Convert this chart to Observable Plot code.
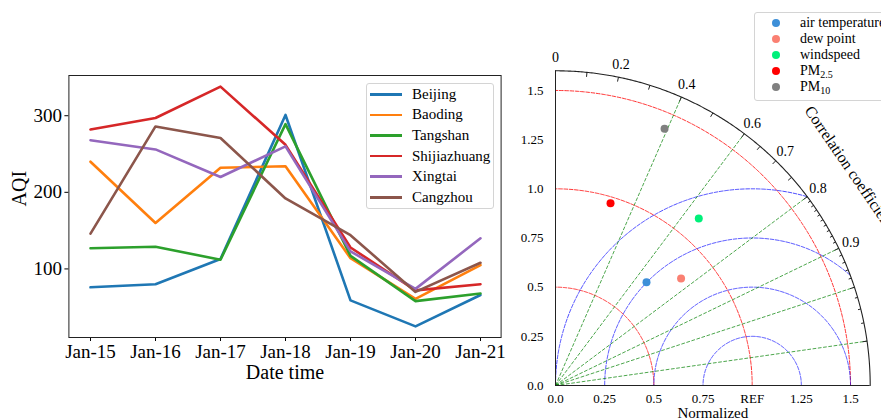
<!DOCTYPE html>
<html><head><meta charset="utf-8">
<script src="https://cdn.jsdelivr.net/npm/d3@7"></script>
<script src="https://cdn.jsdelivr.net/npm/@observablehq/plot@0.6"></script>
<style>
body{margin:0;background:#fff;}
#wrap{position:relative;width:881px;height:420px;overflow:hidden;font-family:"Liberation Serif",serif;background:#fff;}
#wrap svg, #wrap svg text{font-family:"Liberation Serif",serif !important;}
#left{position:absolute;left:0;top:0;}
#right{position:absolute;left:520px;top:0;}
.legend{position:absolute;background:#fff;border:1px solid #d4d4d4;border-radius:3px;box-sizing:border-box;color:#000;}
.row{display:flex;align-items:center;white-space:nowrap;}
.sw{display:inline-block;flex-shrink:0;}
</style></head><body>
<div id="wrap"><div id="left"></div><div id="right"></div>
<div id="legL" class="legend"></div><div id="legR" class="legend"></div></div>
<script>
// ---------- Left chart data ----------
const dates = ["Jan-15","Jan-16","Jan-17","Jan-18","Jan-19","Jan-20","Jan-21"];
const cities = ["Beijing","Baoding","Tangshan","Shijiazhuang","Xingtai","Cangzhou"];
const beijing      = [76, 80, 113, 301, 59, 25, 66];
const baoding      = [240, 160, 232, 234, 114, 61, 105];
const tangshan     = [127, 129, 112, 289, 117, 58, 68];
const shijiazhuang = [282, 297, 338, 262, 128, 72, 80];
const xingtai      = [268, 256, 220, 260, 123, 74, 140];
const cangzhou     = [146, 286, 271, 192, 144, 70, 108];
const cityColors = ["#1f77b4","#ff7f0e","#2ca02c","#d62728","#9467bd","#8c564b"];
const aqiTicks = [100, 200, 300];

// ---------- Taylor diagram data ----------
const vars = ["air temperature","dew point","windspeed","PM2.5","PM10"];
const varLabels = ["air temperature","dew point","windspeed","PM<sub>2.5</sub>","PM<sub>10</sub>"];
const stdNorm = [0.700, 0.839, 1.119, 0.968, 1.418];
const corr    = [0.661, 0.761, 0.651, 0.289, 0.391];
const varColors = ["#3d8fd8","#fa8072","#00f07a","#ff0000","#808080"];
const stdLevels = [0.5, 1.0, 1.5];
const rmsLevels = [0.25, 0.5, 0.75, 1.0];
const corrLines = [0.4, 0.6, 0.8, 0.9, 0.95, 0.99];
const corrLabels = [0, 0.2, 0.4, 0.6, 0.7, 0.8, 0.9];
const corrMajorTicks = [0.1,0.2,0.3,0.4,0.5,0.6,0.65,0.7,0.75,0.8,0.9,0.95,0.99];
const corrMinorTicks = [0.81,0.82,0.83,0.84,0.85,0.86,0.87,0.88,0.89,0.91,0.92,0.93,0.94,0.96,0.97,0.98];
const stdTicks = [0, 0.25, 0.5, 0.75, 1.0, 1.25, 1.5];
const yTickLabels = ["0.0","0.25","0.5","0.75","1.0","1.25","1.5"];
const xTickLabels = ["0.0","0.25","0.5","0.75","REF","1.25","1.5"];
const RMAX = 1.6, REF = 1.0;

const font = "Liberation Serif";

// ---------- Left chart ----------
const table = [];
[beijing, baoding, tangshan, shijiazhuang, xingtai, cangzhou].forEach((vals, i) =>
  vals.forEach((v, j) => table.push({city: cities[i], date: dates[j], aqi: v})));

const left = Plot.plot({
  width: 520, height: 420,
  marginLeft: 68.4, marginRight: 19.4, marginTop: 75, marginBottom: 83,
  style: {fontFamily: font, background: "#fff", color: "#000"},
  x: {type: "point", domain: dates, padding: 0.3},
  y: {domain: [10.5, 352.5]},
  color: {domain: cities, range: cityColors},
  marks: [
    Plot.axisX({tickSize: 4, tickPadding: 3, fontSize: 19, fontFamily: font, label: null}),
    Plot.axisY({ticks: aqiTicks, tickSize: 4, tickPadding: 3, fontSize: 19, fontFamily: font, label: null}),
    Plot.line(table, {x: "date", y: "aqi", z: "city", stroke: "city", strokeWidth: 2.6}),
    Plot.frame({stroke: "#222", strokeWidth: 1}),
    Plot.text(["Date time"], {frameAnchor: "bottom", dy: 41, fontSize: 20, fontFamily: font, fill: "#000"}),
    Plot.text(["AQI"], {frameAnchor: "left", dx: -49, rotate: -90, fontSize: 20, fontFamily: font, fill: "#000"})
  ]
});
document.getElementById("left").appendChild(left);

// ---------- Taylor diagram ----------
const TW = 361, TH = 420, tML = 35, tMR = 11.3, tMB = 35;
const unit = (TW - tML - tMR) / RMAX;
const tMT = TH - tMB - RMAX * unit;
const inside = (x, y) => x * x + y * y <= RMAX * RMAX + 1e-9 && y >= -1e-9;

const stdArcs = [];
stdLevels.forEach(r => { for (let k = 0; k <= 300; k++) { const a = Math.PI / 2 * k / 300; stdArcs.push({lvl: r, x: r * Math.cos(a), y: r * Math.sin(a)}); } });
const rmsArcs = [];
rmsLevels.forEach(r => { for (let k = 0; k <= 600; k++) { const a = Math.PI * k / 600; const x = REF + r * Math.cos(a), y = r * Math.sin(a); if (inside(x, y)) rmsArcs.push({lvl: r, x, y}); } });
const outer = d3.range(0, 301).map(k => { const a = Math.PI / 2 * k / 300; return {x: RMAX * Math.cos(a), y: RMAX * Math.sin(a)}; });
const sinOf = c => Math.sqrt(1 - c * c);
const tickData = [...corrMajorTicks.map(c => ({c, len: 4.5})), ...corrMinorTicks.map(c => ({c, len: 2.8}))];
const points = vars.map((v, i) => ({v, x: stdNorm[i] * corr[i], y: stdNorm[i] * sinOf(corr[i])}));
const LR = 1.668;
const titleR = 1.86, titleAng = 36.6 * Math.PI / 180;

const dash = "3.7,1.6";
const right = Plot.plot({
  width: TW, height: TH,
  marginLeft: tML, marginRight: tMR, marginTop: tMT, marginBottom: tMB,
  style: {fontFamily: font, background: "transparent", color: "#000", overflow: "visible"},
  x: {domain: [0, RMAX]},
  y: {domain: [0, RMAX]},
  color: {domain: vars, range: varColors},
  marks: [
    Plot.axisX({ticks: stdTicks, tickFormat: (d, i) => xTickLabels[i], tickSize: 0, tickPadding: 8, fontSize: 13, fontFamily: font, label: null}),
    Plot.axisY({ticks: stdTicks, tickFormat: (d, i) => yTickLabels[i], tickSize: 0, tickPadding: 12, fontSize: 13, fontFamily: font, label: null}),
    Plot.line(stdArcs, {x: "x", y: "y", z: "lvl", stroke: "red", strokeOpacity: 0.8, strokeWidth: 1, strokeDasharray: dash}),
    Plot.line(rmsArcs, {x: "x", y: "y", z: "lvl", stroke: "blue", strokeOpacity: 0.7, strokeWidth: 1, strokeDasharray: dash}),
    Plot.link(corrLines, {x1: 0, y1: 0, x2: c => RMAX * c, y2: c => RMAX * sinOf(c), stroke: "green", strokeOpacity: 0.7, strokeWidth: 1, strokeDasharray: dash}),
    Plot.line(outer, {x: "x", y: "y", stroke: "#222", strokeWidth: 1.1}),
    Plot.ruleX([0], {y1: 0, y2: RMAX, stroke: "#222", strokeWidth: 1}),
    Plot.ruleY([0], {x1: 0, x2: RMAX, stroke: "#222", strokeWidth: 1}),
    Plot.link(tickData, {x1: d => RMAX * d.c, y1: d => RMAX * sinOf(d.c), x2: d => (RMAX - d.len / unit) * d.c, y2: d => (RMAX - d.len / unit) * sinOf(d.c), stroke: "#222", strokeWidth: 1}),
    Plot.text(corrLabels, {x: c => LR * c, y: c => LR * sinOf(c), text: c => String(c), fontSize: 14, fontFamily: font, fill: "#000"}),
    Plot.dot(points, {x: "x", y: "y", fill: "v", r: 4}),
    Plot.text(["Correlation coefficient"], {x: () => titleR * Math.cos(titleAng), y: () => titleR * Math.sin(titleAng), rotate: 55.5, fontSize: 16, fontFamily: font, fill: "#000"}),
    Plot.text(["Normalized"], {frameAnchor: "bottom", dy: 32, fontSize: 15, fontFamily: font, fill: "#000"})
  ]
});
document.getElementById("right").appendChild(right);

// ---------- Legends ----------
const legL = document.getElementById("legL");
Object.assign(legL.style, {left: "366px", top: "83px", width: "128px", height: "126px", fontSize: "15px"});
legL.innerHTML = cities.map((c, i) =>
  `<div class="row" style="height:20.6px"><span class="sw" style="width:32px;height:2.6px;background:${cityColors[i]};margin-left:3px;margin-right:10px"></span>${c}</div>`).join("");

const legR = document.getElementById("legR");
Object.assign(legR.style, {left: "754px", top: "12px", width: "140px", height: "89px", fontSize: "14px", paddingTop: "2.3px"});
legR.innerHTML = vars.map((v, i) =>
  `<div class="row" style="height:16px;line-height:16px"><span class="sw" style="width:8px;height:8px;border-radius:50%;background:${varColors[i]};margin-left:17px;margin-right:20px"></span><span>${varLabels[i]}</span></div>`).join("");
document.querySelectorAll("#legR sub").forEach(s => { s.style.fontSize = "10px"; s.style.verticalAlign = "-3px"; s.style.lineHeight = "0"; });
</script>
</body></html>
